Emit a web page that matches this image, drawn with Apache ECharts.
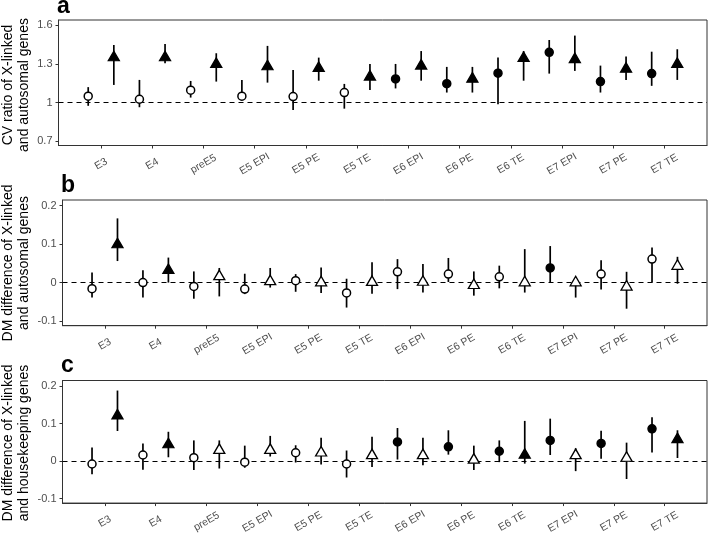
<!DOCTYPE html>
<html>
<head>
<meta charset="utf-8">
<script src="https://cdn.jsdelivr.net/npm/echarts@6/dist/echarts.min.js"></script>
<style>html,body{margin:0;padding:0;background:#fff;}#chart{width:709px;height:536px;}</style>
</head>
<body>
<div id="chart"></div>
<script>
var categories = ['E3','E4','preE5','E5 EPI','E5 PE','E5 TE','E6 EPI','E6 PE','E6 TE','E7 EPI','E7 PE','E7 TE'];

// Panel a: CV ratio
var aCircleMean = [1.05,1.026,1.096,1.05,1.047,1.078,1.184,1.147,1.228,1.39,1.163,1.225];
var aCircleLow  = [0.975,0.964,1.039,1.026,0.943,0.953,1.11,1.078,0.988,1.225,1.078,1.13];
var aCircleHigh = [1.12,1.176,1.168,1.176,1.253,1.145,1.3,1.277,1.35,1.486,1.287,1.395];
var aCircleFilled = [0,0,0,0,0,0,1,1,1,1,1,1];
var aTriMean = [1.35,1.35,1.298,1.28,1.267,1.2,1.285,1.184,1.344,1.336,1.261,1.298];
var aTriLow  = [1.137,1.305,1.163,1.155,1.17,1.098,1.17,1.078,1.17,1.246,1.176,1.176];
var aTriHigh = [1.447,1.455,1.383,1.44,1.349,1.3,1.4,1.277,1.4,1.52,1.357,1.414];
var aTriFilled = [1,1,1,1,1,1,1,1,1,1,1,1];

// Panel b: DM difference X vs autosomal
var bCircleMean = [-0.016,0,-0.010,-0.017,0.005,-0.027,0.028,0.022,0.015,0.038,0.022,0.061];
var bCircleLow  = [-0.039,-0.039,-0.042,-0.030,-0.024,-0.065,-0.017,0.0015,-0.015,0.0,-0.018,0.0];
var bCircleHigh = [0.026,0.032,0.029,0.023,0.022,0.010,0.061,0.064,0.044,0.095,0.058,0.091];
var bCircleFilled = [0,0,0,0,0,0,0,0,0,1,0,0];
var bTriMean = [0.099,0.032,0.016,0.003,0.0,0.001,0.0015,-0.007,0.0,0.0,-0.011,0.043];
var bTriLow  = [0.056,0.0,-0.036,-0.013,-0.027,-0.029,-0.026,-0.034,-0.026,-0.039,-0.068,-0.003];
var bTriHigh = [0.167,0.065,0.038,0.038,0.039,0.053,0.048,0.029,0.087,0.007,0.028,0.067];
var bTriFilled = [1,1,0,0,0,0,0,0,0,0,0,0];

// Panel c: DM difference X vs housekeeping
var cCircleMean = [-0.008,0.016,0.009,-0.003,0.022,-0.008,0.051,0.038,0.026,0.055,0.047,0.086];
var cCircleLow  = [-0.035,-0.023,-0.024,-0.018,-0.004,-0.044,0.004,0.017,-0.003,0.016,0.006,0.023];
var cCircleHigh = [0.036,0.047,0.055,0.041,0.042,0.028,0.088,0.082,0.055,0.113,0.081,0.117];
var cCircleFilled = [0,0,0,0,0,0,1,1,1,1,1,1];
var cTriMean = [0.121,0.044,0.029,0.029,0.022,0.015,0.015,0.003,0.016,0.015,0.008,0.058];
var cTriLow  = [0.080,0.010,-0.020,0.012,-0.009,-0.016,-0.011,-0.024,-0.007,-0.027,-0.048,0.008];
var cTriHigh = [0.188,0.078,0.055,0.067,0.062,0.065,0.062,0.041,0.107,0.034,0.049,0.082];
var cTriFilled = [1,1,0,0,0,0,0,0,1,0,0,1];

var aTicks = [0.7, 1, 1.3, 1.6];
var bcTicks = [-0.1, 0, 0.1, 0.2];

var FONT = 'Liberation Sans, Arial, sans-serif';
var idx = categories.map(function(_, i){ return i; });

var panels = [
  {cm:aCircleMean, cl:aCircleLow, ch:aCircleHigh, cf:aCircleFilled, tm:aTriMean, tl:aTriLow, th:aTriHigh, tf:aTriFilled,
   ticks:aTicks, ymin:0.667, ymax:1.641, ref:1, grid:{left:58.5, right:2, top:20, height:125.5}},
  {cm:bCircleMean, cl:bCircleLow, ch:bCircleHigh, cf:bCircleFilled, tm:bTriMean, tl:bTriLow, th:bTriHigh, tf:bTriFilled,
   ticks:bcTicks, ymin:-0.1122, ymax:0.2148, ref:0, grid:{left:62.5, right:2, top:200, height:125.7}},
  {cm:cCircleMean, cl:cCircleLow, ch:cCircleHigh, cf:cCircleFilled, tm:cTriMean, tl:cTriLow, th:cTriHigh, tf:cTriFilled,
   ticks:bcTicks, ymin:-0.1122, ymax:0.2148, ref:0, grid:{left:62.5, right:2, top:380.5, height:125.2}}
];

var DODGE = 0.25;
var grids = [], xAxes = [], yAxes = [], series = [];

panels.forEach(function(p, k){
  grids.push(Object.assign({show:true, borderColor:'#333', borderWidth:1, backgroundColor:'#fff'}, p.grid));
  xAxes.push({
    type:'value', gridIndex:k, min:-0.83, max:11.83,
    splitLine:{show:false},
    axisLine:{show:true, onZero:false, lineStyle:{color:'#333', width:1}},
    axisTick:{show:true, length:3, customValues:idx, lineStyle:{color:'#333'}},
    axisLabel:{customValues:idx, rotate:30, align:'center', verticalAlign:'middle', margin:18.5,
      color:'#4d4d4d', fontFamily:FONT, fontSize:10.5,
      formatter:function(v){ return categories[Math.round(v)]; }}
  });
  yAxes.push({
    type:'value', gridIndex:k, min:p.ymin, max:p.ymax,
    splitLine:{show:false},
    axisLine:{show:true, onZero:false, lineStyle:{color:'#333', width:1}},
    axisTick:{show:true, length:3, customValues:p.ticks, lineStyle:{color:'#333'}},
    axisLabel:{customValues:p.ticks, margin:6, color:'#4d4d4d', fontFamily:FONT, fontSize:11}
  });

  var errData = [];
  idx.forEach(function(i){
    errData.push([i - DODGE, p.cl[i], p.ch[i]]);
    errData.push([i + DODGE, p.tl[i], p.th[i]]);
  });
  series.push({
    type:'custom', xAxisIndex:k, yAxisIndex:k, z:2, silent:true,
    data:errData,
    encode:{x:0, y:[1,2]},
    renderItem:function(params, api){
      var a = api.coord([api.value(0), api.value(1)]);
      var b = api.coord([api.value(0), api.value(2)]);
      return {type:'line', shape:{x1:a[0], y1:a[1], x2:b[0], y2:b[1]},
        style:{stroke:'#000', lineWidth:1.7}};
    },
    markLine:{silent:true, symbol:'none', label:{show:false},
      lineStyle:{color:'#000', type:[5,4], width:1.1},
      data:[{yAxis:p.ref}]}
  });
  series.push({
    type:'scatter', xAxisIndex:k, yAxisIndex:k, z:5, symbol:'circle', symbolSize:8,
    data: idx.map(function(i){ return [i - DODGE, p.cm[i], p.cf[i]]; }),
    itemStyle:{color:function(pr){ return pr.data[2] ? '#000' : '#fff'; }, borderColor:'#000', borderWidth:1.5, opacity:1}
  });
  series.push({
    type:'scatter', xAxisIndex:k, yAxisIndex:k, z:5, symbol:'triangle', symbolSize:[11,9.5], symbolOffset:[0,-1.5],
    data: idx.map(function(i){ return [i + DODGE, p.tm[i], p.tf[i]]; }),
    itemStyle:{color:function(pr){ return pr.data[2] ? '#000' : '#fff'; }, borderColor:'#000', borderWidth:1.3, opacity:1}
  });
});

function letter(t, x, y){
  return {type:'text', x:x, y:y, style:{text:t, font:'bold 23px ' + FONT, fill:'#000', textAlign:'left', textVerticalAlign:'bottom'}};
}
function ytitle(t, x, y){
  return {type:'text', x:x, y:y, rotation:Math.PI/2,
    style:{text:t, font:'14px ' + FONT, fill:'#000', textAlign:'center', textVerticalAlign:'middle', lineHeight:16}};
}

var chart = echarts.init(document.getElementById('chart'), null, {renderer:'canvas'});
chart.setOption({
  animation:false,
  backgroundColor:'#fff',
  grid:grids, xAxis:xAxes, yAxis:yAxes, series:series,
  graphic:[
    letter('a', 57, 18),
    letter('b', 61, 197),
    letter('c', 61, 377),
    ytitle('CV ratio of X-linked\nand autosomal genes', 16, 85),
    ytitle('DM difference of X-linked\nand autosomal genes', 16, 263),
    ytitle('DM difference of X-linked\nand housekeeping genes', 16, 443)
  ]
});
</script>
</body>
</html>
